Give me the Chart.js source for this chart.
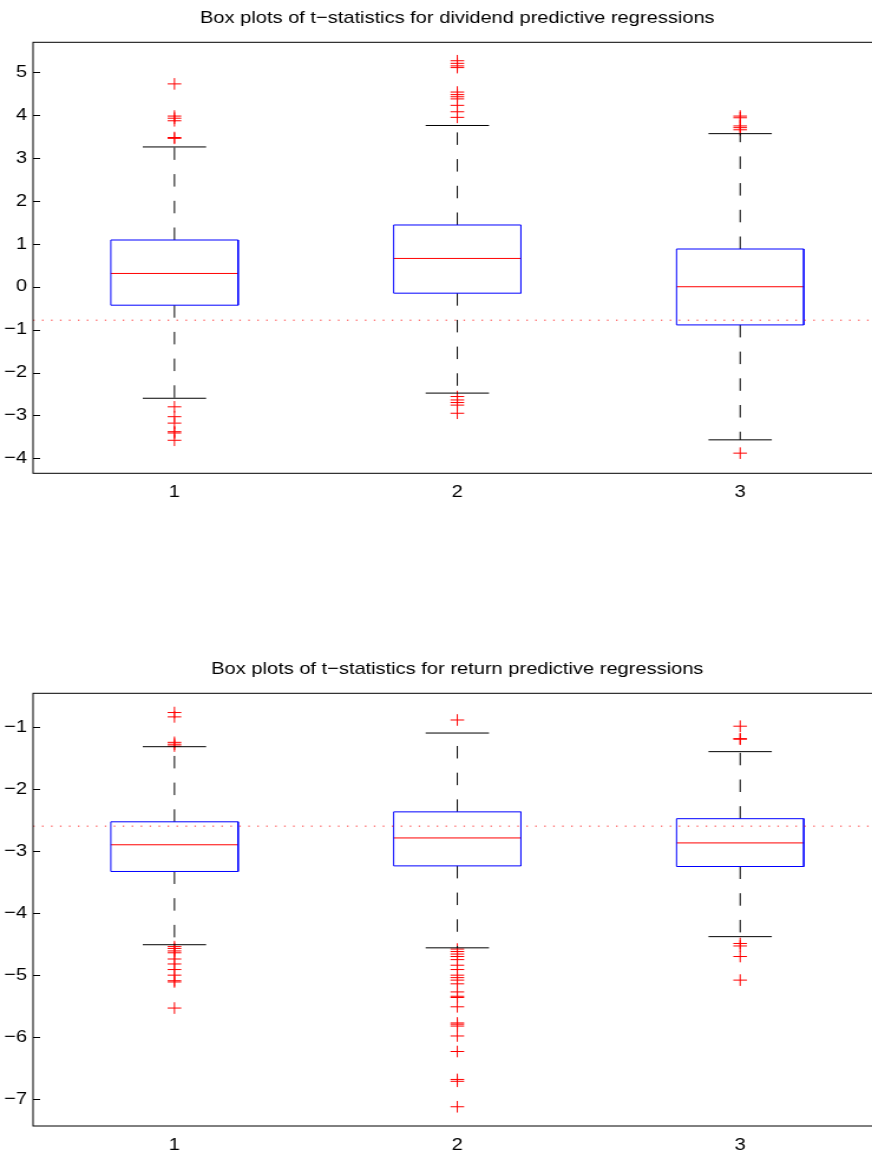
<!DOCTYPE html>
<html>
<head>
<meta charset="utf-8">
<title>t-statistics box plots</title>
<script src="https://cdn.jsdelivr.net/npm/chart.js@4.4.1/dist/chart.umd.min.js"></script>
<style>
  html, body { margin: 0; padding: 0; background: #fff; overflow: hidden; }
  body { width: 872px; height: 1156px; position: relative; }
  /* the figure is drawn narrow and widened, so text and marks share the same aspect */
  .panel { position: absolute; left: 0; transform: scaleX(1.18); transform-origin: 0 0; }
  #divPanel { top: 0; }
  #retPanel { top: 650px; }
</style>
</head>
<body>
<div class="panel" id="divPanel"><canvas id="divChart" width="765" height="520"></canvas></div>
<div class="panel" id="retPanel"><canvas id="retChart" width="765" height="506"></canvas></div>
<script>
const groups = [1, 2, 3];

// dividend predictive regressions
const divQ1 = [-0.43, -0.15, -0.89];
const divMedian = [0.31, 0.66, 0.00];
const divQ3 = [1.09, 1.44, 0.88];
const divLower = [-2.60, -2.48, -3.57];
const divUpper = [3.26, 3.76, 3.57];
const divOutliers = [
  [4.73, 3.98, 3.93, 3.87, 3.48, 3.46, -2.80, -3.03, -3.18, -3.38, -3.41, -3.58],
  [5.27, 5.21, 5.15, 5.11, 4.54, 4.48, 4.43, 4.38, 4.23, 4.08, 3.95, -2.56, -2.64, -2.70, -2.76, -2.95],
  [3.98, 3.94, 3.75, 3.71, 3.66, -3.88]
];
const divCritical = -0.78;
const divTicks = [-4, -3, -2, -1, 0, 1, 2, 3, 4, 5];

// return predictive regressions
const retQ1 = [-3.33, -3.24, -3.25];
const retMedian = [-2.90, -2.79, -2.87];
const retQ3 = [-2.53, -2.37, -2.48];
const retLower = [-4.51, -4.56, -4.38];
const retUpper = [-1.32, -1.10, -1.40];
const retOutliers = [
  [-0.77, -0.84, -1.25, -1.28, -1.31, -4.54, -4.57, -4.61, -4.64, -4.74, -4.82, -4.91, -5.00, -5.09, -5.11, -5.53],
  [-0.89, -4.58, -4.62, -4.66, -4.70, -4.75, -4.84, -4.91, -5.00, -5.04, -5.08, -5.14, -5.27, -5.34, -5.36,
   -5.51, -5.77, -5.79, -5.82, -5.98, -6.23, -6.68, -6.71, -7.12],
  [-0.99, -1.19, -1.20, -4.49, -4.53, -4.70, -5.08]
];
const retCritical = -2.60;
const retTicks = [-7, -6, -5, -4, -3, -2, -1];

const FONT = "'Liberation Sans', Arial, Helvetica, sans-serif";
const BOX_HALF = 0.225;
const CAP_HALF = 0.112;
const WHISKER_DASH = [12.5, 14.2];

function lineSet(points, color, dash) {
  return {
    data: points,
    showLine: true,
    borderColor: color,
    borderWidth: 1,
    borderDash: dash || [],
    pointRadius: 0,
    tension: 0,
    fill: false
  };
}

function boxDatasets(q1, med, q3, lo, hi, outliers, critical) {
  const sets = [];
  sets.push(lineSet([{ x: 0.5, y: critical }, { x: 3.5, y: critical }], 'rgba(255,0,0,0.8)', [1.3, 6.3]));
  groups.forEach((g, i) => {
    sets.push(lineSet([
      { x: g - BOX_HALF, y: q1[i] }, { x: g - BOX_HALF, y: q3[i] },
      { x: g + BOX_HALF, y: q3[i] }, { x: g + BOX_HALF, y: q1[i] },
      { x: g - BOX_HALF, y: q1[i] }
    ], '#0000ff'));
    sets.push(lineSet([{ x: g - BOX_HALF, y: med[i] }, { x: g + BOX_HALF, y: med[i] }], '#ff0000'));
    sets.push(lineSet([{ x: g, y: q3[i] }, { x: g, y: hi[i] }], '#000', WHISKER_DASH));
    sets.push(lineSet([{ x: g, y: q1[i] }, { x: g, y: lo[i] }], '#000', WHISKER_DASH));
    sets.push(lineSet([{ x: g - CAP_HALF, y: hi[i] }, { x: g + CAP_HALF, y: hi[i] }], '#000'));
    sets.push(lineSet([{ x: g - CAP_HALF, y: lo[i] }, { x: g + CAP_HALF, y: lo[i] }], '#000'));
  });
  sets.push({
    data: outliers.flatMap((vals, i) => vals.map(v => ({ x: groups[i], y: v }))),
    showLine: false,
    pointStyle: 'cross',
    pointRadius: 5.8,
    borderColor: '#ff0000',
    borderWidth: 1
  });
  return sets;
}

// box around the plot area plus inward ticks on the left axis
const axesFrame = {
  id: 'axesFrame',
  afterDatasetsDraw(chart) {
    const { ctx, chartArea: a, scales } = chart;
    ctx.save();
    ctx.strokeStyle = '#000';
    ctx.lineWidth = 1;
    ctx.strokeRect(a.left, a.top, a.right - a.left, a.bottom - a.top);
    ctx.beginPath();
    scales.y.ticks.forEach(t => {
      const py = Math.round(scales.y.getPixelForValue(t.value)) + 0.5;
      ctx.moveTo(a.left, py);
      ctx.lineTo(a.left + 6, py);
    });
    ctx.stroke();
    ctx.restore();
  }
};

const minus = v => String(v).replace('-', '\u2212');

function makeChart(id, title, titlePad, yMin, yMax, yTicks, xAxisHeight, datasets) {
  return new Chart(document.getElementById(id), {
    type: 'scatter',
    data: { datasets },
    options: {
      responsive: false,
      animation: false,
      devicePixelRatio: 1,
      layout: { padding: { left: 0, right: 17.9, top: 0, bottom: 0 } },
      plugins: {
        legend: { display: false },
        tooltip: { enabled: false },
        title: {
          display: true,
          text: title,
          color: '#000',
          fullSize: false,
          font: { family: FONT, size: 17, weight: 'normal', lineHeight: 1.2 },
          padding: titlePad
        }
      },
      scales: {
        x: {
          type: 'linear',
          min: 0.5,
          max: 3.5,
          afterBuildTicks: s => { s.ticks = groups.map(v => ({ value: v })); },
          afterFit: s => { s.height = xAxisHeight; },
          grid: { display: false, drawTicks: false },
          border: { display: false },
          ticks: { color: '#000', padding: 9, font: { family: FONT, size: 17 }, callback: v => String(v) }
        },
        y: {
          type: 'linear',
          min: yMin,
          max: yMax,
          afterBuildTicks: s => { s.ticks = yTicks.map(v => ({ value: v })); },
          afterFit: s => { s.width = 28; },
          grid: { display: false, drawTicks: false },
          border: { display: false },
          ticks: { color: '#000', padding: 5, font: { family: FONT, size: 17 }, callback: v => minus(v) }
        }
      }
    },
    plugins: [axesFrame]
  });
}

makeChart('divChart', 'Box plots of t\u2212statistics for dividend predictive regressions',
  { top: 8, bottom: 13.9 }, -4.35, 5.70, divTicks, 46.7,
  boxDatasets(divQ1, divMedian, divQ3, divLower, divUpper, divOutliers, divCritical));

makeChart('retChart', 'Box plots of t\u2212statistics for return predictive regressions',
  { top: 9, bottom: 13.9 }, -7.43, -0.46, retTicks, 30,
  boxDatasets(retQ1, retMedian, retQ3, retLower, retUpper, retOutliers, retCritical));
</script>
</body>
</html>
